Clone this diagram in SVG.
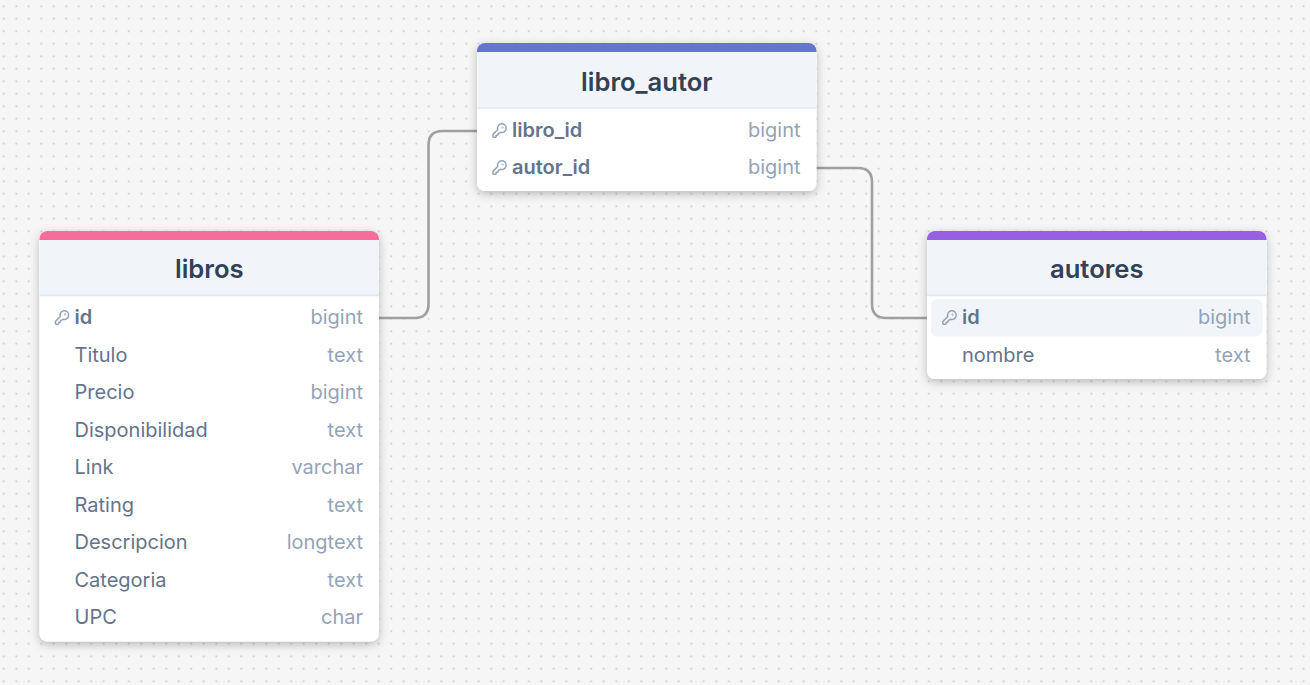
<svg xmlns="http://www.w3.org/2000/svg" width="1310" height="685" viewBox="0 0 1310 685">
<style>
text{font-family:Inter,"Noto Sans","Liberation Sans",sans-serif}
.card{fill:#fff;filter:url(#sh)}
.head{fill:#f1f5f9}
.sep{stroke:#e2e8f0;stroke-width:1.5}
.title{font-size:25.600px;font-weight:600;fill:#334155;text-anchor:middle}
.name{font-size:20px;fill:#64748b}
.pk{font-weight:600}
.type{font-size:20px;fill:#94a3b8;text-anchor:end}
.conn{fill:none;stroke:#a0a0a0;stroke-width:2.6}
.key{fill:none;stroke:#94a3b8;stroke-width:2.200;stroke-linecap:round;stroke-linejoin:round}
</style>
<defs>
<pattern id="dots" width="12.5" height="12.5" patternUnits="userSpaceOnUse" x="-2.5" y="0">
<rect x="5.5" y="5.5" width="1.5" height="1.5" fill="#bdbdbd"/>
</pattern>
<filter id="sh" x="-10%" y="-10%" width="120%" height="120%">
<feDropShadow dx="0" dy="3" stdDeviation="5" flood-color="#000" flood-opacity="0.25"/>
</filter>
<g id="k" transform="scale(0.667)">
<path class="key" d="M2.586 17.414A2 2 0 0 0 2 18.828V21a1 1 0 0 0 1 1h3a1 1 0 0 0 1-1v-1a1 1 0 0 1 1-1h1a1 1 0 0 0 1-1v-1a1 1 0 0 1 1-1h.172a2 2 0 0 0 1.414-.586l.814-.814a6.500 6.500 0 1 0-4-4z"/>
<circle class="key" cx="16.500" cy="7.500" r=".5"/>
</g>
</defs>
<rect width="1310" height="685" fill="#f6f6f6"/>
<rect width="1310" height="685" fill="url(#dots)"/>
<g id="connectors">
<path class="conn" d="M379 318H414.500Q428.500 318 428.500 304V145Q428.500 131 442.500 131H478"/>
<path class="conn" d="M816 168H858Q872 168 872 182V304Q872 318 886 318H928"/>
</g>
<g id="libro_autor">
<rect class="card" x="477" y="43" width="339.500" height="148" rx="8"/>
<path class="head" d="M477 52H816.500V108H477Z"/>
<path d="M477 52V51A8 8 0 0 1 485 43H808.500A8 8 0 0 1 816.500 51V52Z" fill="#6574cd"/>
<line class="sep" x1="477" y1="108" x2="816.500" y2="108"/>
<text class="title" x="646.750" y="91">libro_autor</text>
<use href="#k" x="491.500" y="122.500"/>
<text class="name pk" x="512" y="137">libro_id</text>
<text class="type" x="800.500" y="137">bigint</text>
<use href="#k" x="491.500" y="159.500"/>
<text class="name pk" x="512" y="174">autor_id</text>
<text class="type" x="800.500" y="174">bigint</text>
</g>
<g id="libros">
<rect class="card" x="39.500" y="231" width="339.500" height="410.500" rx="8"/>
<path class="head" d="M39.500 240H379V295.500H39.500Z"/>
<path d="M39.500 240V239A8 8 0 0 1 47.500 231H371A8 8 0 0 1 379 239V240Z" fill="#f66d9b"/>
<line class="sep" x1="39.500" y1="295.500" x2="379" y2="295.500"/>
<text class="title" x="209.250" y="278">libros</text>
<use href="#k" x="54" y="309.500"/>
<text class="name pk" x="74.500" y="324">id</text><text class="type" x="363" y="324">bigint</text>
<text class="name" x="74.500" y="362">Titulo</text><text class="type" x="363" y="362">text</text>
<text class="name" x="74.500" y="399">Precio</text><text class="type" x="363" y="399">bigint</text>
<text class="name" x="74.500" y="437">Disponibilidad</text><text class="type" x="363" y="437">text</text>
<text class="name" x="74.500" y="474">Link</text><text class="type" x="363" y="474">varchar</text>
<text class="name" x="74.500" y="512">Rating</text><text class="type" x="363" y="512">text</text>
<text class="name" x="74.500" y="549">Descripcion</text><text class="type" x="363" y="549">longtext</text>
<text class="name" x="74.500" y="587">Categoria</text><text class="type" x="363" y="587">text</text>
<text class="name" x="74.500" y="624">UPC</text><text class="type" x="363" y="624">char</text>
</g>
<g id="autores">
<rect class="card" x="927" y="231" width="339.500" height="148" rx="8"/>
<path class="head" d="M927 240H1266.500V295.500H927Z"/>
<path d="M927 240V239A8 8 0 0 1 935 231H1258.500A8 8 0 0 1 1266.500 239V240Z" fill="#9561e2"/>
<line class="sep" x1="927" y1="295.500" x2="1266.500" y2="295.500"/>
<text class="title" x="1096.750" y="278">autores</text>
<rect class="head" x="931" y="299" width="331.500" height="37.500" rx="6"/>
<use href="#k" x="941.500" y="309.500"/>
<text class="name pk" x="962" y="324">id</text><text class="type" x="1250.500" y="324">bigint</text>
<text class="name" x="962" y="362">nombre</text><text class="type" x="1250.500" y="362">text</text>
</g>
</svg>
